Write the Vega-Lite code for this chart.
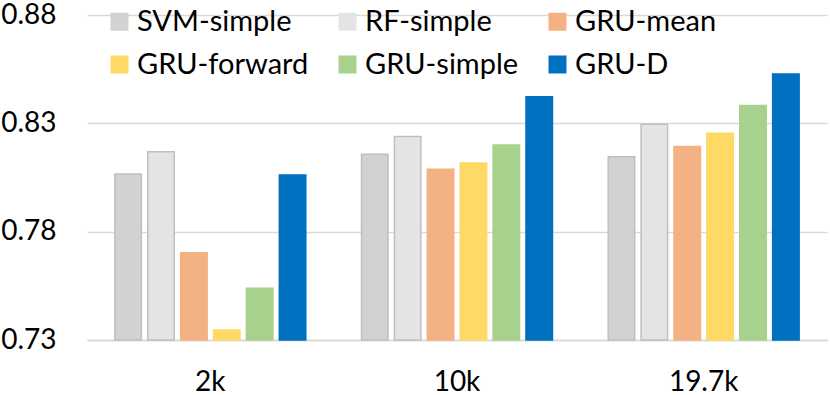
{
  "$schema": "https://vega.github.io/schema/vega-lite/v6.json",
  "width": 740,
  "height": 325,
  "padding": {"left": 0, "top": 1, "right": 2, "bottom": 0},
  "background": "white",
  "config": {
    "view": {"stroke": null},
    "font": "Lato",
    "axis": {"labelFont": "Lato", "labelColor": "#000000"},
    "legend": {
      "labelFont": "Lato",
      "title": null,
      "orient": "none",
      "legendX": 18,
      "legendY": -8,
      "direction": "horizontal",
      "columns": 3,
      "gridAlign": "each",
      "columnPadding": 24,
      "rowPadding": 13,
      "symbolType": "square",
      "symbolSize": 324,
      "symbolStrokeWidth": 0,
      "labelFontSize": 29,
      "labelOffset": 3,
      "labelColor": "#000000",
      "labelLimit": 400
    }
  },
  "data": {
    "values": [
      {"size": "2k", "model": "SVM-simple", "auc": 0.8066},
      {"size": "2k", "model": "RF-simple", "auc": 0.8169},
      {"size": "2k", "model": "GRU-mean", "auc": 0.7703},
      {"size": "2k", "model": "GRU-forward", "auc": 0.7346},
      {"size": "2k", "model": "GRU-simple", "auc": 0.7539},
      {"size": "2k", "model": "GRU-D", "auc": 0.8062},
      {"size": "10k", "model": "SVM-simple", "auc": 0.8157},
      {"size": "10k", "model": "RF-simple", "auc": 0.8239},
      {"size": "10k", "model": "GRU-mean", "auc": 0.8088},
      {"size": "10k", "model": "GRU-forward", "auc": 0.8117},
      {"size": "10k", "model": "GRU-simple", "auc": 0.8200},
      {"size": "10k", "model": "GRU-D", "auc": 0.8423},
      {"size": "19.7k", "model": "SVM-simple", "auc": 0.8146},
      {"size": "19.7k", "model": "RF-simple", "auc": 0.8296},
      {"size": "19.7k", "model": "GRU-mean", "auc": 0.8193},
      {"size": "19.7k", "model": "GRU-forward", "auc": 0.8254},
      {"size": "19.7k", "model": "GRU-simple", "auc": 0.8382},
      {"size": "19.7k", "model": "GRU-D", "auc": 0.8528}
    ]
  },
  "mark": {"type": "bar", "strokeWidth": 1.5},
  "encoding": {
    "x": {
      "field": "size",
      "type": "nominal",
      "sort": ["2k", "10k", "19.7k"],
      "scale": {"paddingInner": 0.226, "paddingOuter": 0.113},
      "axis": {
        "title": null,
        "labelAngle": 0,
        "labelFontSize": 28,
        "labelPadding": 28,
        "ticks": false,
        "domain": true,
        "domainColor": "#d9d9d9",
        "domainWidth": 1.5
      }
    },
    "xOffset": {
      "field": "model",
      "type": "nominal",
      "sort": ["SVM-simple", "RF-simple", "GRU-mean", "GRU-forward", "GRU-simple", "GRU-D"],
      "scale": {"paddingInner": 0.195, "paddingOuter": 0}
    },
    "y": {
      "field": "auc",
      "type": "quantitative",
      "scale": {"domain": [0.73, 0.88], "nice": false, "zero": false},
      "axis": {
        "title": null,
        "values": [0.73, 0.78, 0.83, 0.88],
        "format": ".2f",
        "labelFontSize": 28,
        "labelPadding": 31,
        "ticks": false,
        "domain": false,
        "grid": true,
        "gridColor": "#d9d9d9",
        "gridWidth": 1.5
      }
    },
    "y2": {"datum": 0.73},
    "fill": {
      "field": "model",
      "type": "nominal",
      "sort": ["SVM-simple", "RF-simple", "GRU-mean", "GRU-forward", "GRU-simple", "GRU-D"],
      "scale": {"range": ["#d2d2d2", "#e4e4e4", "#F4B183", "#FFD966", "#A9D18E", "#0070C0"]}
    },
    "stroke": {
      "field": "model",
      "type": "nominal",
      "sort": ["SVM-simple", "RF-simple", "GRU-mean", "GRU-forward", "GRU-simple", "GRU-D"],
      "scale": {"range": ["#bfbfbf", "#bfbfbf", "#F4B183", "#FFD966", "#A9D18E", "#0070C0"]},
      "legend": null
    }
  }
}
